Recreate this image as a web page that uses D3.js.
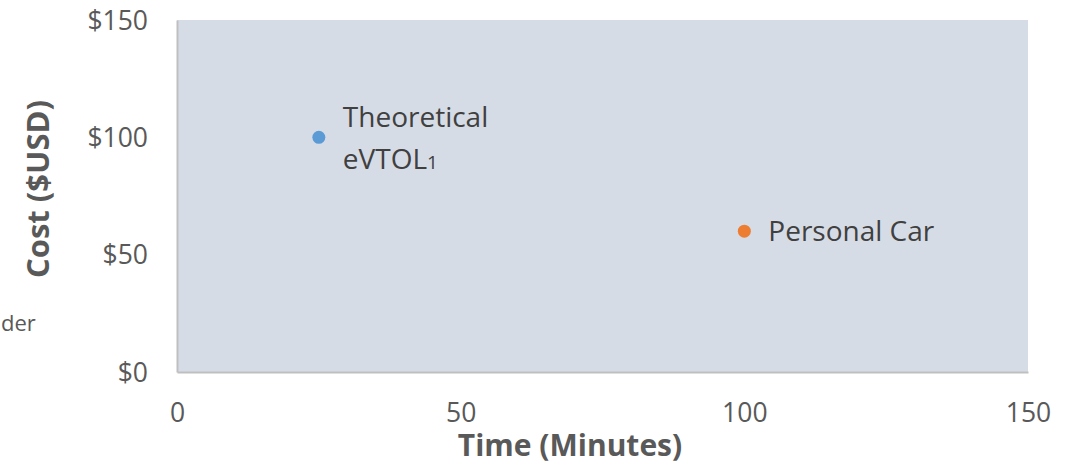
<!DOCTYPE html>
<html><head><meta charset="utf-8">
<script src="https://cdn.jsdelivr.net/npm/d3@7"></script>
<style>body{margin:0;background:#fff}svg{display:block}text{font-family:"Open Sans","Noto Sans",sans-serif}</style>
</head><body>
<svg id="c" width="1081" height="465"></svg>
<script>
const names = ["Theoretical eVTOL", "Personal Car"];
const times = [25, 100];
const costs = [100, 60];
const colors = ["#5B9BD5", "#ED7D31"];
const xTicks = [0, 50, 100, 150];
const yTicks = [0, 50, 100, 150];

const svg = d3.select("#c");
const L = 177, R = 1028, T = 20, B = 372;
const x = d3.scaleLinear().domain([0,150]).range([L,R]);
const y = d3.scaleLinear().domain([0,150]).range([B,T]);
const txt = "#595959";

svg.append("rect").attr("x",L).attr("y",T).attr("width",R-L).attr("height",B-T).attr("fill","#D6DCE5");

const xa = svg.append("g").attr("transform",`translate(0,${B})`)
  .call(d3.axisBottom(x).tickValues(xTicks).tickSize(0).tickPadding(30).tickFormat(d3.format("d")));
const ya = svg.append("g").attr("transform",`translate(${L},0)`)
  .call(d3.axisLeft(y).tickValues(yTicks).tickSize(0).tickPadding(29).tickFormat(d=>"$"+d));
[xa,ya].forEach(a=>{
  a.select(".domain").attr("stroke","#BFBFBF").attr("stroke-width",2);
  a.selectAll("text").attr("fill",txt).style("font-size","26.5px").style("font-family","'Open Sans',sans-serif");
});
xa.selectAll("text").attr("dy","0.71em").attr("y",31);
ya.selectAll("text").attr("dy","0.35em");

svg.append("text").attr("x",570).attr("y",456).attr("text-anchor","middle")
  .attr("fill",txt).style("font-size","30px").style("font-weight","bold").text("Time (Minutes)");
svg.append("text").attr("transform","translate(49,189) rotate(-90)").attr("text-anchor","middle")
  .attr("fill",txt).style("font-size","31px").style("font-weight","bold").text("Cost ($USD)");

svg.append("text").attr("x",1).attr("y",323).attr("dy","0.35em").attr("text-anchor","start").attr("fill",txt)
  .style("font-size","22px").text("der");

svg.selectAll("circle.pt").data(times).join("circle").attr("class","pt")
  .attr("cx",(d)=>x(d)).attr("cy",(d,i)=>y(costs[i])).attr("r",6.5).attr("fill",(d,i)=>colors[i]);

// labels
const l0 = svg.append("text").attr("x",x(times[0])+24).attr("y",y(costs[0])-10).attr("fill","#404040").style("font-size","28px");
l0.append("tspan").text("Theoretical");
l0.append("tspan").attr("x",x(times[0])+24).attr("dy",42).text("eVTOL");
l0.append("tspan").style("font-size","19px").text("1");
svg.append("text").attr("x",x(times[1])+24).attr("y",y(costs[1])).attr("dy","0.35em").attr("fill","#404040")
  .style("font-size","28px").text("Personal Car");
</script>
</body></html>
